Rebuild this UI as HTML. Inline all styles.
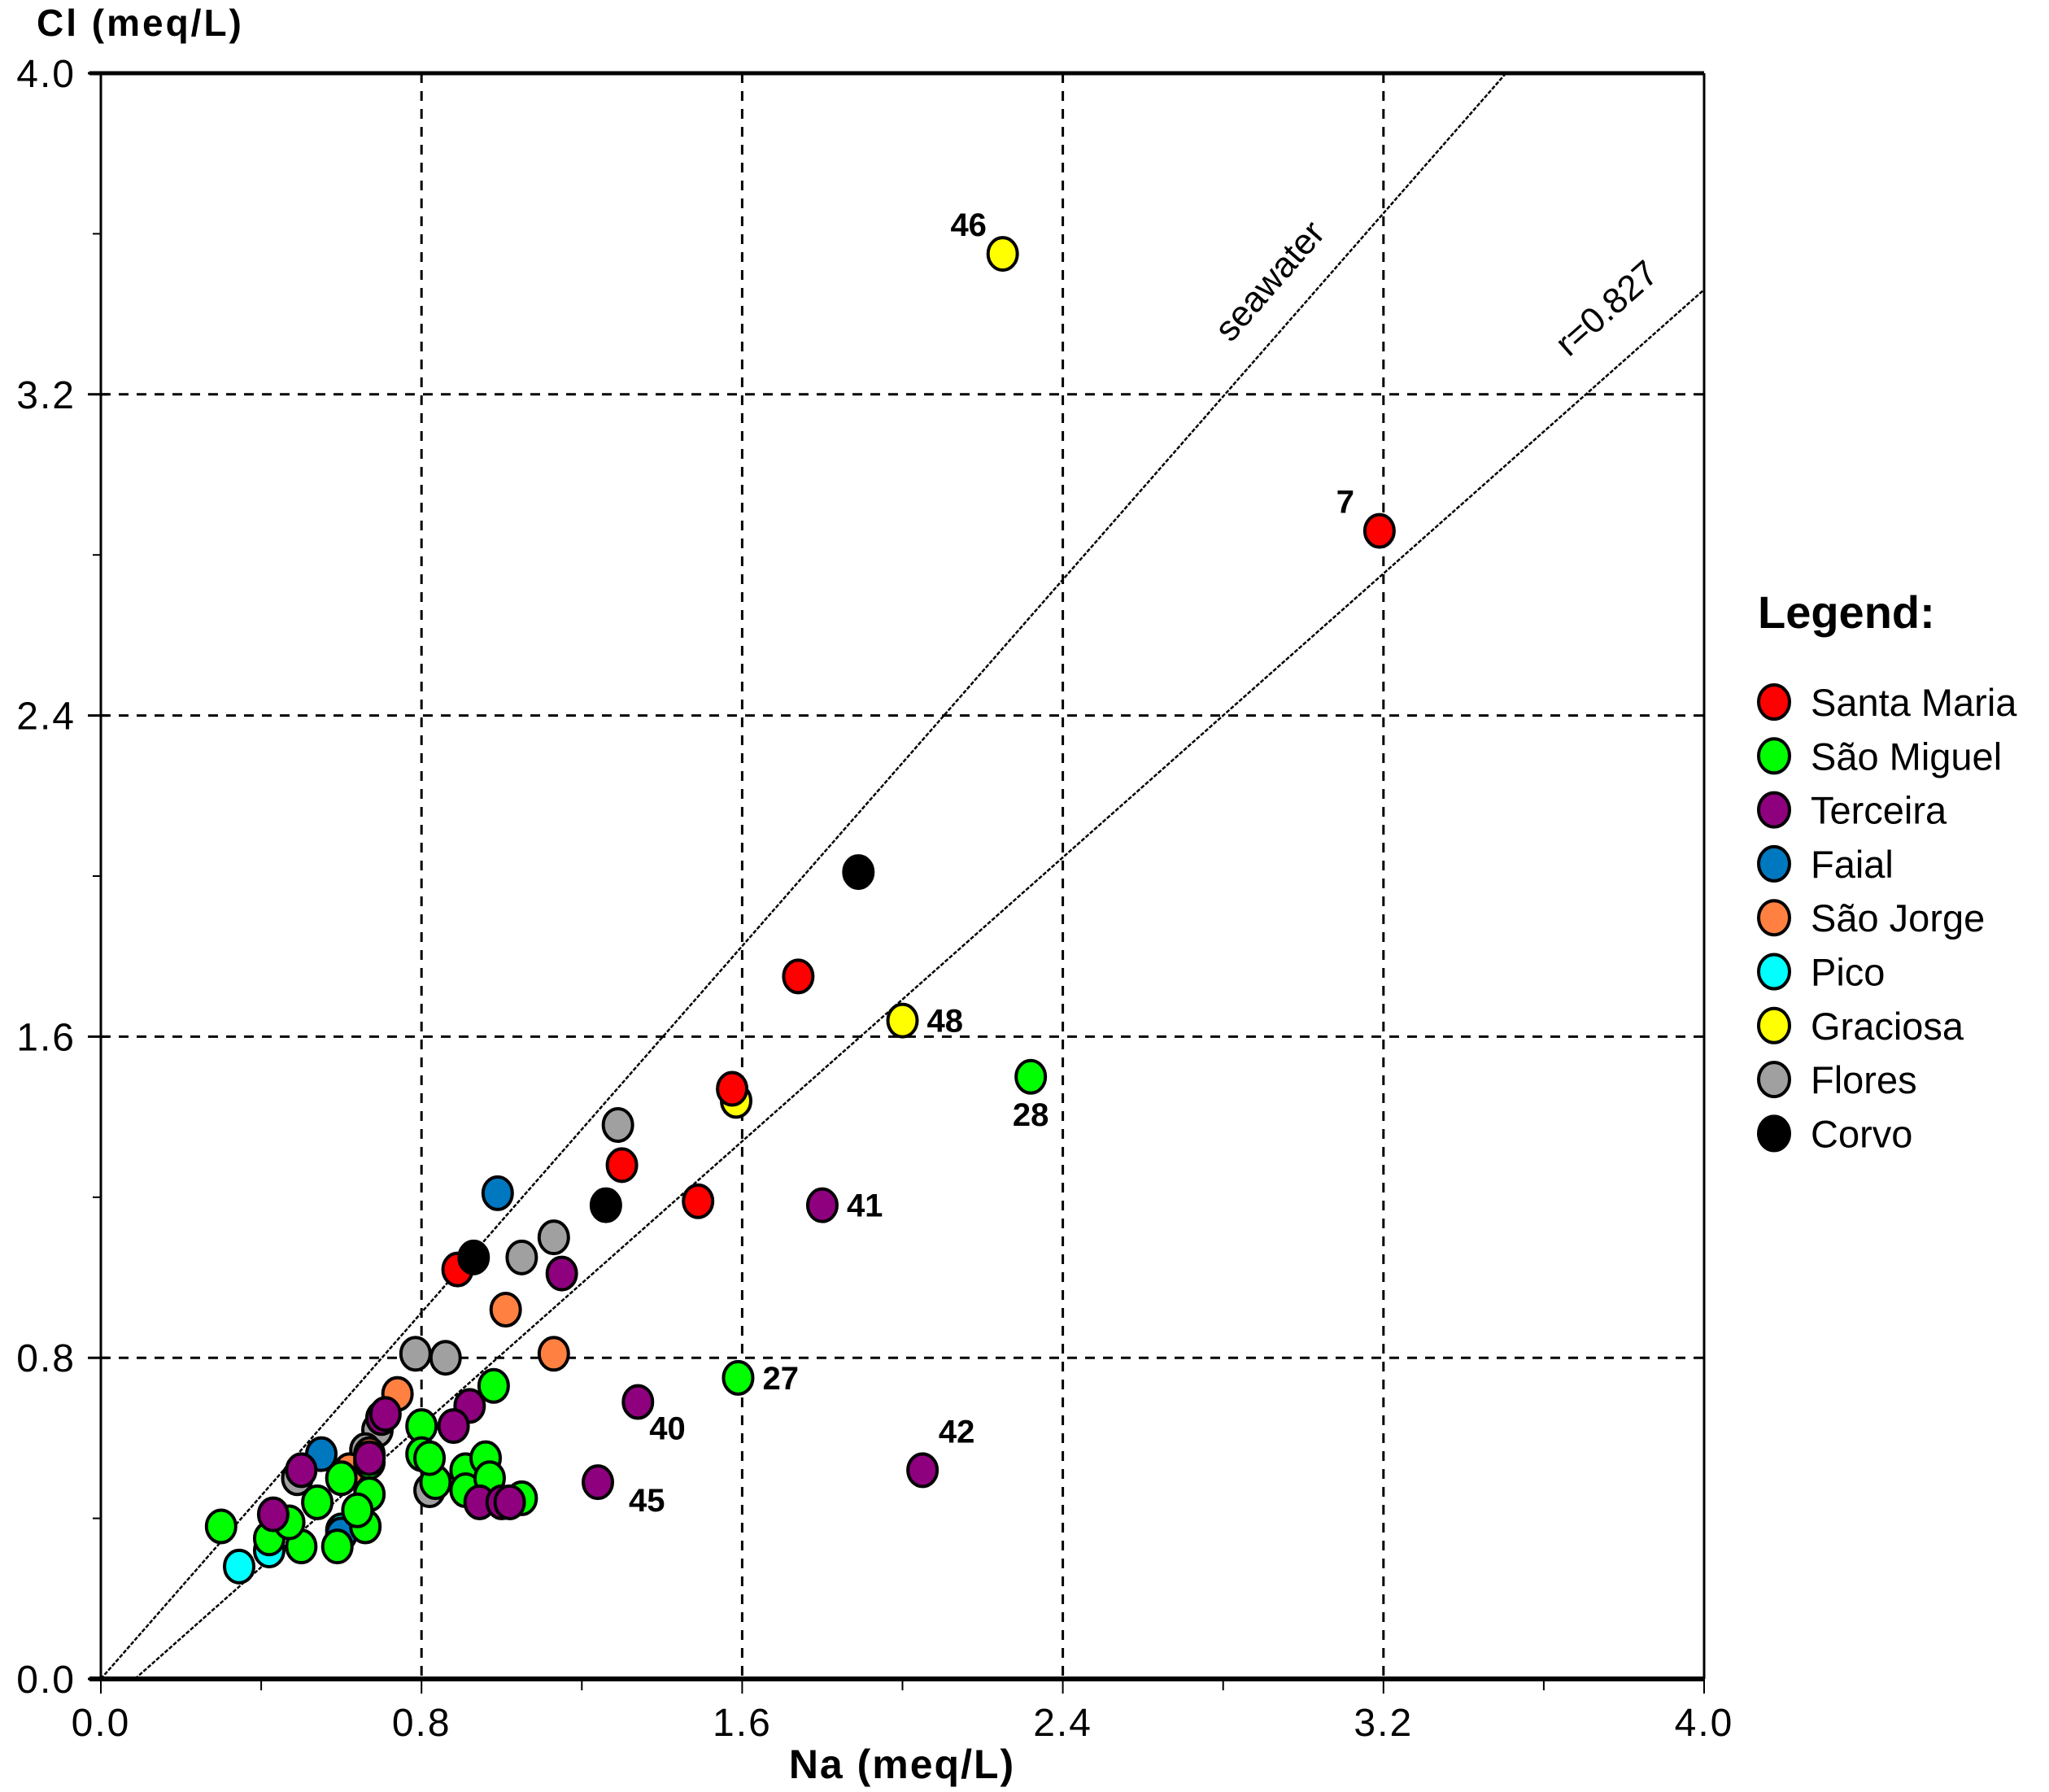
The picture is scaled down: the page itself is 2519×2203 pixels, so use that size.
<!DOCTYPE html>
<html><head><meta charset="utf-8"><style>
html,body{margin:0;padding:0;background:#fff}
svg{display:block}
text{font-family:"Liberation Sans",sans-serif}
</style></head><body>
<svg id="chart" width="2519" height="2203" viewBox="0 0 2519 2203" xmlns="http://www.w3.org/2000/svg">
<g id="grid"></g>
<g id="lines"></g>
<g id="pts"></g>
<g id="axes"></g>
<g id="legend"></g>
</svg>
<script>
const xTicks = [0.0, 0.8, 1.6, 2.4, 3.2, 4.0];
const yTicks = [0.0, 0.8, 1.6, 2.4, 3.2, 4.0];
const groups = ["Santa Maria","São Miguel","Terceira","Faial","São Jorge","Pico","Graciosa","Flores","Corvo"];
const colors = ["#ff0000","#00ff00","#8e007e","#0078c0","#ff8040","#00ffff","#ffff00","#a0a0a0","#000000"];
const flores = [[1.29,1.38],[1.13,1.10],[1.05,1.05],[0.785,0.81],[0.86,0.80],[0.82,0.47],[0.49,0.50],[0.69,0.62],[0.66,0.57]];
const pico = [[0.345,0.28],[0.42,0.32],[0.60,0.37]];
const faial = [[0.99,1.21],[0.55,0.56],[0.60,0.36]];
const saoJorge = [[1.01,0.92],[1.13,0.81],[0.74,0.71],[0.67,0.56],[0.62,0.52]];
const saoMiguel = [[2.32,1.50],[1.59,0.75],[0.98,0.73],[0.80,0.63],[0.30,0.38],[0.60,0.50],[0.67,0.54],[0.66,0.38],[0.59,0.33],[0.50,0.33],[0.42,0.35],[0.54,0.44],[0.67,0.46],[0.80,0.56],[0.835,0.49],[0.91,0.52],[0.91,0.47],[0.96,0.55],[0.97,0.50],[1.05,0.45],[0.47,0.39],[0.82,0.55],[0.64,0.42]];
const terceira = [[1.80,1.18],[1.15,1.01],[1.34,0.69],[2.05,0.52],[1.24,0.49],[0.92,0.68],[0.88,0.63],[0.70,0.65],[0.67,0.55],[0.50,0.52],[0.43,0.41],[0.945,0.44],[1.00,0.44],[1.02,0.44],[0.71,0.66]];
const graciosa = [[2.25,3.55],[2.00,1.64],[1.585,1.44]];
const santaMaria = [[3.19,2.86],[1.74,1.75],[1.575,1.47],[1.30,1.28],[1.49,1.19],[0.89,1.02]];
const corvo = [[1.89,2.01],[0.93,1.05],[1.26,1.18]];
const seriesData = [flores,pico,faial,saoJorge,saoMiguel,terceira,graciosa,santaMaria,corvo];
const seriesIdx = [7,5,3,4,1,2,6,0,8];
const labelText = ["46","7","48","28","41","27","40","42","45"];
const labelPts = [[2.25,3.55],[3.19,2.86],[2.00,1.64],[2.32,1.50],[1.80,1.18],[1.59,0.75],[1.34,0.69],[2.05,0.52],[1.24,0.49]];
const labelSide = ["tl","tl","r","b","r","r","br","t","br2"];
const seaSlope = 1.141, rSlope = 0.884, rIntercept = 0.085;

const X0=124,X1=2095,Y0=2064,Y1=90;
const sx=v=>X0+(v/4)*(X1-X0), sy=v=>Y0-(v/4)*(Y0-Y1);
const NS="http://www.w3.org/2000/svg";
function mk(tag,attrs,parent){const e=document.createElementNS(NS,tag);for(const k in attrs)e.setAttribute(k,attrs[k]);parent.appendChild(e);return e;}
const grid=document.getElementById('grid'),axes=document.getElementById('axes'),lines=document.getElementById('lines'),pts=document.getElementById('pts'),leg=document.getElementById('legend');

xTicks.forEach((t,i)=>{
  if(i>0&&i<xTicks.length-1){const l=mk('line',{x1:sx(t),x2:sx(t),y1:Y1,y2:Y0,stroke:'#000','stroke-width':3,'stroke-dasharray':'12 10'},grid);
  }
  const tx=mk('text',{x:sx(t),y:2134,'text-anchor':'middle','font-size':48,'letter-spacing':2},axes);tx.textContent=t.toFixed(1);
  
  mk('line',{x1:sx(t),x2:sx(t),y1:Y0,y2:Y0+18,stroke:'#000','stroke-width':2},axes);
  if(i<xTicks.length-1){const m=(t+xTicks[i+1])/2;mk('line',{x1:sx(m),x2:sx(m),y1:Y0,y2:Y0+14,stroke:'#000','stroke-width':2},axes);}
});
yTicks.forEach((t,i)=>{
  if(i>0&&i<yTicks.length-1){const l=mk('line',{x1:X0,x2:X1,y1:sy(t),y2:sy(t),stroke:'#000','stroke-width':3,'stroke-dasharray':'12 10'},grid);
  }
  const tx=mk('text',{x:93,y:sy(t)+17,'text-anchor':'end','font-size':48,'letter-spacing':2},axes);tx.textContent=t.toFixed(1);
  
  mk('line',{x1:X0-16,x2:X0+10,y1:sy(t),y2:sy(t),stroke:'#000','stroke-width':3},axes);
  if(i<yTicks.length-1){const m=(t+yTicks[i+1])/2;mk('line',{x1:X0-10,x2:X0,y1:sy(m),y2:sy(m),stroke:'#000','stroke-width':2},axes);}
});
mk('line',{x1:X0-14,x2:X1,y1:Y0,y2:Y0,stroke:'#000','stroke-width':6},axes);
mk('line',{x1:X0-14,x2:X1,y1:Y1,y2:Y1,stroke:'#000','stroke-width':5},axes);
mk('line',{x1:X0,x2:X0,y1:Y1,y2:Y0,stroke:'#000','stroke-width':3},axes);
mk('line',{x1:X1,x2:X1,y1:Y1,y2:Y1+1974,stroke:'#000','stroke-width':3},axes);
let t1=mk('text',{x:45,y:44,'font-size':46,'font-weight':'bold','letter-spacing':3},axes);t1.textContent='Cl (meq/L)';

let t2=mk('text',{x:1109,y:2186,'text-anchor':'middle','font-size':50,'font-weight':'bold','letter-spacing':2},axes);t2.textContent='Na (meq/L)';


const seaEnd=4/seaSlope;
let sl=mk('line',{x1:sx(0),y1:sy(0),x2:sx(seaEnd),y2:sy(4),stroke:'#000','stroke-width':2.5,'stroke-dasharray':'5 2'},lines);

let rl=mk('line',{x1:sx(rIntercept),y1:sy(0),x2:sx(4),y2:sy((4-rIntercept)*rSlope),stroke:'#000','stroke-width':2.5,'stroke-dasharray':'5 2'},lines);

const angS=-Math.atan((Y0-Y1)/(X1-X0)*seaSlope)*180/Math.PI;
const angR=-Math.atan((Y0-Y1)/(X1-X0)*rSlope)*180/Math.PI;
let lx=1572,ly=355;
let st=mk('text',{x:lx,y:ly,'font-size':44,transform:`rotate(${angS} ${lx} ${ly})`,'text-anchor':'middle'},lines);st.textContent='seawater';

lx=1985;ly=390;
let rt=mk('text',{x:lx,y:ly,'font-size':44,transform:`rotate(${angR} ${lx} ${ly})`,'text-anchor':'middle'},lines);rt.textContent='r=0.827';


seriesData.forEach((arr,si)=>{
  const c=colors[seriesIdx[si]];
  arr.forEach(p=>{
    const e=mk('ellipse',{cx:sx(p[0]),cy:sy(p[1]),rx:18,ry:20,fill:c,stroke:'#000','stroke-width':4},pts);
    
    
  });
});
const offs={tl:[-42,-22,'middle'],r:[30,14,'start'],b:[0,60,'middle'],br:[14,46,'start'],br2:[38,36,'start'],t:[42,-34,'middle']};
labelPts.forEach((p,i)=>{
  const o=offs[labelSide[i]];
  const t=mk('text',{x:sx(p[0])+o[0],y:sy(p[1])+o[1],'text-anchor':o[2],'font-size':40,'font-weight':'bold','font-family':'Liberation Serif, serif'},pts);
  t.textContent=labelText[i];
  
});

let lt=mk('text',{x:2161,y:772,'font-size':56,'font-weight':'bold'},leg);lt.textContent='Legend:';

groups.forEach((g,i)=>{
  const y=863+i*66.3;
  const m=mk('ellipse',{cx:2181,cy:y,rx:19,ry:21,fill:colors[i],stroke:'#000','stroke-width':4},leg);
  
  const t=mk('text',{x:2226,y:y+17,'font-size':47},leg);t.textContent=g;
  
});
</script>
</body></html>
